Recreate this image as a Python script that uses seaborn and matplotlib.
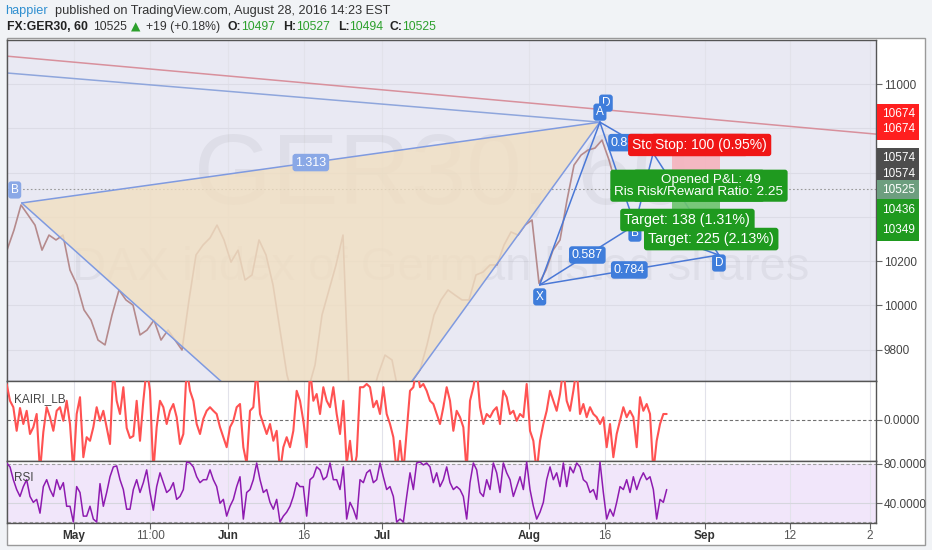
import numpy as np
import pandas as pd
import matplotlib
matplotlib.use("Agg")
import matplotlib.pyplot as plt
import matplotlib.transforms as mtransforms
from matplotlib.patches import Rectangle, Polygon
import seaborn as sns

sns.set_theme(style="white")
plt.rcParams["font.family"] = ["Liberation Sans", "DejaVu Sans"]

# ---------------- data ----------------
# hourly GER30 chart, sampled about once per trading day (closes)
price_close = [10250, 10341, 10454, 10409, 10363, 10250, 10318, 10296, 10318, 10160,
               10093, 9980, 9934, 9844, 9822, 9957, 10070, 10025, 10002, 9867,
               9889, 9934, 9844, 9889, 9844, 9799, 10025, 10228, 10273, 10305,
               10363, 10296, 10196, 10250, 10115, 10138, 10296, 10228, 10093, 9889,
               9686, 9573, 9528, 9618, 9731, 9957, 10070, 10183, 10318, 9483,
               9393, 9483, 9573, 9686, 9776, 9754, 9596, 9573, 9664, 9709,
               9822, 9957, 10025, 10070, 10047, 10025, 10025, 10138, 10151, 10183,
               10183, 10273, 10332, 10318, 10363, 10386, 10100, 10160, 10250, 10296,
               10476, 10634, 10679, 10702, 10711, 10747, 10657, 10544, 10567, 10521,
               10544, 10567, 10521, 10525]

kairi = [0.90, 0.48, 0.32, -0.27, 0.30, -0.10, 0.23, -0.35, -0.18, 0.15,
         -1.30, -0.30, 0.32, 0.07, -0.27, 0.23, 0.32, -0.02, 0.48, -0.10,
         -1.30, 0.15, 0.57, -0.93, -0.43, -0.52, -0.18, 0.32, -0.02, 0.23,
         -0.18, -0.60, 1.30, 0.48, 0.15, 0.82, -0.20, -0.45, -0.40, 0.48,
         -0.52, 0.48, 1.30, 0.73, -1.30, -0.18, 0.48, 0.32, -0.10, 0.23,
         0.40, 0.07, -0.60, -0.35, 1.30, 0.73, 0.48, -0.10, -0.35, 0.03,
         0.23, 0.32, 0.23, 0.15, -0.18, -0.43, -0.68, -0.18, -0.02, 0.32,
         0.40, -0.68, -1.10, 0.23, 0.32, 1.30, 0.15, -0.10, -0.35, -0.10,
         -0.52, -0.27, -1.30, -0.68, -0.43, -0.68, -0.27, 0.73, 0.48, -0.02,
         -0.68, 1.30, 0.48, 0.65, 0.15, 0.82, 0.48, 0.32, 0.82, 0.15,
         -0.35,
         0.48, -1.10, -0.52, -1.30, -0.90, 0.82, 0.82, 0.90, 0.82, 0.32,
         0.48, 0.15, 0.82, 0.15, -0.10, -0.43, -1.30, -0.52, -1.30, -0.27,
         0.73, 0.82, 1.30, 0.82, 0.90, 0.73, 0.48, 0.40, 0.15, -0.10,
         0.32, 0.82, 0.48, -0.27, 0.23, 0.07, -0.18, -1.30, 0.48, 0.82,
         1.30, 0.32, -0.10, 0.15, 0.07, 0.23, 0.32, -0.10, 0.73, 0.57,
         0.15, 0.23, -0.02, 0.15, 0.07, 0.90, -0.27, -0.52, -1.30, -0.52,
         -0.10, 0.23, 0.73, 0.48, 0.23, 0.65, 1.30, 0.48, 0.23, 0.73,
         1.30, 0.15, 0.40, 0.07, 0.32, 0.15, 0.07, -0.10, 0.07, -0.68,
         -0.10, -0.93, -0.35, -0.02, 0.32, 0.07, 0.23, 0.07, -0.68, 0.57,
         0.23, 0.40, 0.15, -1.30, -0.52, -0.10, 0.15, 0.15]

rsi = [81, 77, 64, 54, 47, 57, 64, 47, 41, 44,
       30, 57, 64, 54, 47, 64, 54, 61, 37, 37,
       21, 57, 51, 27, 27, 37, 24, 21, 60, 37,
       51, 67, 77, 78, 64, 54, 34, 34, 54, 64,
       51, 61, 74, 51, 33, 57, 71, 61, 51, 54,
       61, 44, 47, 54, 82, 81, 77, 67, 61, 64,
       64, 74, 64, 57, 40, 44, 27, 37, 44, 57,
       67, 24, 51, 54, 64, 81, 64, 51, 54, 41,
       34, 44, 21, 27, 31, 37, 47, 61, 57, 57,
       27, 64, 67, 77, 74, 64, 67, 81, 64, 64,
       54,
       77, 24, 41, 34, 24, 64, 61, 71, 74, 61,
       64, 81, 67, 54, 57, 47, 21, 24, 21, 47,
       71, 54, 81, 82, 79, 81, 77, 61, 71, 57,
       64, 77, 61, 54, 57, 54, 47, 24, 61, 81,
       74, 51, 47, 64, 54, 81, 71, 51, 81, 71,
       64, 47, 57, 67, 54, 82, 54, 37, 24, 31,
       41, 64, 77, 64, 71, 57, 81, 57, 77, 71,
       81, 77, 64, 61, 51, 54, 44, 82, 51, 24,
       34, 27, 41, 57, 54, 64, 51, 67, 54, 64,
       71, 64, 67, 54, 24, 44, 41, 54]

# x-axis (trading-day index) ticks
tick_pos = [9.57, 20.43, 31.57, 42.43, 53.57, 74.57, 85.43, 99.71, 111.86, 123.29]
tick_labels = ["May", "11:00", "Jun", "16", "Jul", "Aug", "16", "Sep", "12", "2"]
month_labels = {"May", "Jun", "Jul", "Aug", "Sep"}

# harmonic pattern points (t, price)
big_pts = {"X": (0.0, 11050), "B": (2.1, 10463), "C": (47.1, 9190), "D": (84.7, 10828)}
small_pts = {"X": (76.1, 10093), "A": (84.7, 10828), "B": (89.7, 10363),
             "C": (92.3, 10688), "D": (101.7, 10228)}
trend_t = [0.0, 124.14]
trend_p = [11126, 10774]

# position tool levels
entry, stop_lvl, tgt1, tgt2, last_price = 10574, 10674, 10436, 10349, 10525

# ---------------- figure ----------------
W_PX, H_PX = 932, 550
fig = plt.figure(figsize=(9.32, 5.5), dpi=100)
fig.patch.set_facecolor("#f1f3f6")
fig.add_artist(Rectangle((7 / W_PX, 1 - 545 / H_PX), (925 - 7) / W_PX, (545 - 38) / H_PX,
                         transform=fig.transFigure, facecolor="white", edgecolor="#9a9a9a",
                         lw=1, zorder=0))

L, Wd = 7 / W_PX, 869 / W_PX
ax = fig.add_axes([L, 1 - 381 / H_PX, Wd, 341 / H_PX])
axk = fig.add_axes([L, 1 - 461 / H_PX, Wd, 80 / H_PX], sharex=ax)
axr = fig.add_axes([L, 1 - 523 / H_PX, Wd, 62 / H_PX], sharex=ax)

for a in (ax, axk, axr):
    for s in a.spines.values():
        s.set_color("#555555")
        s.set_linewidth(1)
    a.yaxis.tick_right()
    a.set_xticks(tick_pos)
    a.grid(True, axis="x", color="#e2e2ea", lw=0.8, zorder=0)
    a.tick_params(axis="y", which="both", right=True, length=4, width=0.8, color="#666",
                  labelsize=8.5, labelcolor="#444", pad=1.5, direction="out")
    a.set_xlabel("")
    a.set_ylabel("")

ax.set_xlim(0, 124.14)

# ---- main pane ----
ax.set_facecolor("#e9e9f3")
ax.set_ylim(9659, 11199)
ax.set_yticks([9800, 10000, 10200, 10400, 10600, 10800, 11000])
ax.set_yticklabels(["9800", "10000", "10200", "10400", "10600", "10800", "11000"])
ax.grid(True, axis="y", color="#dcdce6", lw=0.8, zorder=0)
ax.tick_params(axis="x", labelbottom=False, length=0)

ax.text(62, 10576, "GER30, 60", fontsize=72, color="#000000", alpha=0.045,
        ha="center", va="center", zorder=0.6)
ax.text(62, 10169, "DAX index of German listed shares", fontsize=34, color="#000000",
        alpha=0.045, ha="center", va="center", zorder=0.6)

# trend lines
ax.plot(trend_t, trend_p, color="#d8909c", lw=1.1, zorder=1.5)
ax.plot([big_pts["X"][0], big_pts["D"][0]], [big_pts["X"][1], big_pts["D"][1]],
        color="#8fa6dc", lw=1.1, zorder=1.5)

# price
dfp = pd.DataFrame({"t": np.arange(len(price_close)), "close": price_close})
sns.lineplot(data=dfp, x="t", y="close", ax=ax, color="#b58a8c", lw=1.2, zorder=2)
ax.axhline(last_price, color="#9a9a9a", ls=(0, (1.5, 2)), lw=0.8, zorder=2.2)

# big pattern fill + lines
bB, bC, bD = big_pts["B"], big_pts["C"], big_pts["D"]
ax.add_patch(Polygon([bB, bC, bD], closed=True, facecolor="#f1dfc1", alpha=0.8,
                     edgecolor="none", zorder=3))
for p, q in [(bB, bD), (bB, bC), (bC, bD)]:
    ax.plot([p[0], q[0]], [p[1], q[1]], color="#7f9ae0", lw=1.1, zorder=4)

# small pattern lines
sp = small_pts
for a_, b_ in [("X", "A"), ("A", "B"), ("B", "C"), ("C", "D"), ("X", "B"),
               ("A", "C"), ("B", "D"), ("X", "D")]:
    ax.plot([sp[a_][0], sp[b_][0]], [sp[a_][1], sp[b_][1]], color="#4a78d6", lw=1.1, zorder=4)

# position tool zones
ax.add_patch(Rectangle((95, entry), 6.86, stop_lvl - entry, facecolor="#f6b3bd", alpha=0.9,
                       edgecolor="none", zorder=5))
ax.add_patch(Rectangle((95, tgt2), 6.86, entry - tgt2, facecolor="#6cc46c", alpha=0.9,
                       edgecolor="none", zorder=5))

PT = 0.72  # points per pixel


def plabel(txt, xy, dx=0, dy=0, fc="#3f7ddb", fs=8.5, z=8):
    ax.annotate(txt, xy=xy, xytext=(dx * PT, dy * PT), textcoords="offset points",
                ha="center", va="center", fontsize=fs, color="white", zorder=z,
                bbox=dict(boxstyle="round,pad=0.22,rounding_size=0.25", fc=fc, ec="none"),
                annotation_clip=False)


def mid(p, q):
    return ((p[0] + q[0]) / 2, (p[1] + q[1]) / 2)


plabel("1.313", mid(bB, bD), fc="#8aa8e6", fs=9)
plabel("B", bB, -7, 13, fc="#8aa8e6")
plabel("D", sp["A"], 6, 19)
plabel("A", sp["A"], 0, 10)
plabel("X", sp["X"], 0, -12)
plabel("B", sp["B"], 0, -8)
plabel("D", sp["D"], 0, -8)
plabel("0.587", mid(sp["X"], sp["B"]), fs=9)
plabel("0.784", mid(sp["X"], sp["D"]), fs=9)
plabel("0.886", mid(sp["A"], sp["C"]), 0, -5, fs=9)


def tbox(txt, x, y, fc, z, fs=10):
    ax.text(x, y, txt, ha="center", va="center", fontsize=fs, color="white", zorder=z,
            linespacing=1.0, multialignment="center",
            bbox=dict(boxstyle="round,pad=0.3,rounding_size=0.2", fc=fc, ec="none"))


stop_txt = "Stop: 100 (0.95%)"
pl_txt = "Opened P&L: 49\nRisk/Reward Ratio: 2.25"
tbox(stop_txt, 97.3, 10725, "#f01616", 10)
tbox(stop_txt, 100.6, 10725, "#f01616", 11)
tbox(pl_txt, 97.2, 10541, "#1f9a1f", 10, fs=9.7)
tbox(pl_txt, 100.5, 10541, "#1f9a1f", 11, fs=9.7)
tbox("Target: 138 (1.31%)", 97.2, 10386, "#1f9a1f", 12, fs=10.3)
tbox("Target: 225 (2.13%)", 100.6, 10300, "#1f9a1f", 13, fs=10.3)

# right-axis value labels
trans = mtransforms.blended_transform_factory(ax.transAxes, ax.transData)
for val, off, col in [(stop_lvl, -42, "#ff1f1f"), (stop_lvl, -27, "#ff1f1f"),
                      (entry, -20, "#4d4d4d"), (entry, -4, "#4d4d4d"),
                      (last_price, 1, "#6d9e7f"), (tgt1, 1, "#1f9a1f"), (tgt2, 2, "#1f9a1f")]:
    ax.annotate(str(val), xy=(1, val), xycoords=trans, xytext=(4, -off * PT),
                textcoords="offset points", ha="left", va="center", fontsize=8.5,
                color="white", zorder=20, annotation_clip=False,
                bbox=dict(boxstyle="square,pad=0.38", fc=col, ec="none"))

# ---- KAIRI pane ----
n_ind = len(kairi)
t_ind = -1 + (20 + 10 * np.arange(n_ind)) / 21.0
dfk = pd.DataFrame({"t": t_ind, "kairi": kairi})
sns.lineplot(data=dfk, x="t", y="kairi", ax=axk, color="#ff5252", lw=1.5, zorder=3)
axk.set_facecolor("white")
axk.set_ylim(-1.025, 0.975)
axk.axhline(0, color="#707070", ls=(0, (3, 2)), lw=0.8, zorder=2)
axk.set_yticks([0])
axk.set_yticklabels(["0.0000"])
axk.tick_params(axis="x", labelbottom=False, length=0)
axk.text(0.008, 0.78, "KAIRI_LB", transform=axk.transAxes, fontsize=8.5, color="#444",
         ha="left", va="center", zorder=5)

# ---- RSI pane ----
dfr = pd.DataFrame({"t": -1 + (20 + 10 * np.arange(len(rsi))) / 21.0, "rsi": rsi})
axr.set_facecolor("white")
axr.set_ylim(20, 83)
axr.axhspan(21, 80, color="#f1e6fa", zorder=0.5)
axr.axhline(80, color="#a0a0a0", ls=(0, (3, 2)), lw=0.8, zorder=1)
axr.axhline(21, color="#a0a0a0", ls=(0, (3, 2)), lw=0.8, zorder=1)
axr.axhline(40, color="#d6d6de", lw=0.8, zorder=1)
sns.lineplot(data=dfr, x="t", y="rsi", ax=axr, color="#8e1bb0", lw=1.1, zorder=3)
axr.set_yticks([40, 80])
axr.set_yticklabels(["40.0000", "80.0000"])
axr.text(0.008, 0.72, "RSI", transform=axr.transAxes, fontsize=8.5, color="#444",
         ha="left", va="center", zorder=5)
axr.set_xticks(tick_pos)
axr.set_xticklabels(tick_labels)
axr.tick_params(axis="x", labelbottom=True, bottom=True, length=4, width=0.8, color="#666",
                labelsize=8.5, labelcolor="#555", pad=1, direction="out")
for lab in axr.get_xticklabels():
    if lab.get_text() in month_labels:
        lab.set_fontweight("bold")
        lab.set_color("#333")
for a in (ax, axk, axr):
    a.set_xlabel("")
    a.set_ylabel("")

# ---- header ----
def ftext(px, py, s, **kw):
    fig.text(px / W_PX, 1 - py / H_PX, s, ha="left", va="center", **kw)


ftext(5, 11, "happier", fontsize=9.2, color="#2f8fd0")
ftext(55, 11, "published on TradingView.com, August 28, 2016 14:23 EST", fontsize=9.2, color="#333")
g = "#2ca02c"
fs2 = 8.8
ftext(7, 27, "FX:GER30, 60", fontsize=fs2, color="#222", fontweight="bold")
ftext(93, 27, "10525", fontsize=fs2, color="#333")
ftext(131, 27, "\u25b2", fontsize=fs2, color=g, family=["DejaVu Sans"])
ftext(146, 27, "+19 (+0.18%)", fontsize=fs2, color="#333")
ftext(227, 27, "O:", fontsize=fs2, color="#222", fontweight="bold")
ftext(241, 27, "10497", fontsize=fs2, color=g)
ftext(283, 27, "H:", fontsize=fs2, color="#222", fontweight="bold")
ftext(296, 27, "10527", fontsize=fs2, color=g)
ftext(338, 27, "L:", fontsize=fs2, color="#222", fontweight="bold")
ftext(349, 27, "10494", fontsize=fs2, color=g)
ftext(389, 27, "C:", fontsize=fs2, color="#222", fontweight="bold")
ftext(402, 27, "10525", fontsize=fs2, color=g)

fig.savefig("out.png", dpi=100, facecolor=fig.get_facecolor())
